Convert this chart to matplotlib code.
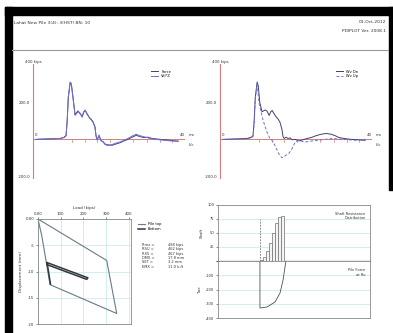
import matplotlib
matplotlib.use("Agg")
import matplotlib.pyplot as plt
from matplotlib.patches import Rectangle

W, H = 393, 333

# ---------------- data ----------------
header_left = "Lahat New Pile 3(4): 3(HST) BN: 10"
header_right = ["01-Oct-2012", "PDIPLOT Ver. 2008.1"]

# top-left: Force and Velocity*Z (time in ms, kips)
t_fv = [0.8, 7.2, 8.3, 8.8, 9.1, 9.4, 9.9, 10.2, 10.6, 11.2, 12.0, 12.5, 13.1,
        13.5, 13.9, 14.4, 14.7, 15.1, 15.5, 16.0, 16.5, 16.8, 17.1, 17.6, 18.1,
        18.7, 19.2, 20.0, 21.1, 22.1, 23.2, 24.3, 25.3, 26.4, 27.5, 28.5, 29.6,
        30.7, 31.7, 34.0, 36.5, 38.7]
force = [0, 5, 10, 20, 95, 225, 308, 300, 240, 135, 155, 140, 125, 150, 157,
         140, 130, 115, 110, 95, 70, 20, 0, 20, -5, -15, -25, -30, -32, -25,
         -18, -8, 0, 12, 22, 15, 10, 12, 5, 0, -5, -10]
velz = [0, 5, 12, 22, 100, 230, 312, 305, 235, 130, 150, 145, 120, 146, 160,
        136, 128, 118, 106, 92, 66, 16, -4, 24, -8, -12, -28, -34, -28, -20,
        -14, -4, 5, 18, 28, 20, 14, 8, 3, -3, -8, -10]

# top-right: Wave Down (same time base) and Wave Up
wd = [0, 5, 11, 21, 98, 228, 312, 290, 200, 150, 160, 155, 130, 150, 157,
      140, 130, 119, 110, 92, 55, 15, 5, 12, 5, 8, -2, 0, -8, -2,
      5, 10, 18, 25, 30, 32, 28, 20, 10, 2, -2, -5]
t_wu = [0.8, 7.2, 8.3, 8.8, 9.1, 9.4, 9.9, 10.4, 11.2, 11.7, 12.5, 13.3, 14.1,
        14.9, 15.7, 16.5, 17.1, 17.6, 18.4, 19.2, 20.0, 21.0, 22.5, 24.0, 26.0,
        28.0, 30.0, 33.0, 36.0, 38.7]
wu = [0, 3, 8, 15, 90, 220, 300, 200, 125, 90, 40, 5, -10, -45, -80, -100,
      -95, -85, -75, -50, -15, -5, -15, -10, -5, 0, 5, 0, -5, 0]
time_marks = [10.4, 13.9, 17.1, 20.5, 26.7, 30.4, 33.9, 37.1]

# bottom-left: load (kips) vs displacement (mm)
load_top = [0, 303, 347, 53, 18, 0]
disp_top = [0, -7.9, -18.0, -12.5, -3.5, 0]
load_bot = [40, 220, 215, 40, 40, 55]
disp_bot = [-8.3, -11.2, -11.5, -8.7, -8.3, -12.4]
load_ticks = [0, 100, 200, 300, 400]
load_ticklabels = ["0.00", "100", "200", "300", "400"]
disp_ticks = [0, -5, -10, -15, -20]
disp_ticklabels = ["0.00", "-5", "-10", "-15", "-20"]
table_keys = ["Rmx =", "RSU =", "RX5 =", "DMX =", "SET =", "EMX ="]
table_vals = ["488 kips", "462 kips", "467 kips", "17.8 mm", "3.2 mm", "11.0 k-ft"]

# bottom-right: shaft resistance distribution and toe force
shaft_x = [27.6, 29.6, 31.6, 33.6, 35.6, 37.6, 39.6, 41.6]
shaft_v = [2, 8, 18, 32, 50, 68, 79, 80]
toe_x = [27.6, 27.6, 32.2, 37.5, 40.8, 42.8, 44.1, 44.7]
toe_v = [0, -330, -323, -288, -225, -133, -42, 0]

# ---------------- figure ----------------
fig = plt.figure(figsize=(W / 100, H / 100), dpi=100)
fig.patch.set_facecolor("white")


def px_axes(x0, y0, x1, y1, **kw):
    return fig.add_axes([x0 / W, 1 - y1 / H, (x1 - x0) / W, (y1 - y0) / H], **kw)


def fig_text(x, y, s, **kw):
    fig.text(x / W, 1 - y / H, s, **kw)


# frame decorations (black borders)
bg = px_axes(0, 0, W, H)
bg.set_xlim(0, W)
bg.set_ylim(H, 0)
bg.axis("off")
bg.add_patch(Rectangle((5, 7), W - 5, 8, color="black"))
bg.add_patch(Rectangle((5, 7), 7, H - 7, color="black"))
bg.add_patch(Rectangle((389, 7), 4, 183, color="black"))
bg.plot([12, 388], [50, 50], color="#999999", lw=0.8)

fig_text(14, 23, header_left, fontsize=3.2, color="#333333", va="center")
fig_text(386, 22, header_right[0], fontsize=3.2, color="#333333", va="center", ha="right")
fig_text(386, 31, header_right[1], fontsize=3.2, color="#333333", va="center", ha="right")

RED = "#d08080"
DARK = "#404070"
BLUE = "#7070d0"


def wave_axes(x_axis_px, t1, s1, t2, s2, lab1, lab2, style2):
    ax = px_axes(x_axis_px, 64, x_axis_px + 152, 178)
    ax.set_xlim(0, 40.5)
    ax.set_ylim(-210, 410)
    for sp in ["top", "right", "bottom"]:
        ax.spines[sp].set_visible(False)
    ax.spines["left"].set_color(RED)
    ax.spines["left"].set_linewidth(0.8)
    ax.axhline(0, color=RED, lw=0.7, zorder=1)
    ax.set_xticks([])
    ax.set_yticks([])
    ax.plot(t1, s1, color=DARK, lw=0.7, label=lab1, zorder=3)
    ax.plot(t2, s2, color=BLUE, lw=0.7, ls=style2, label=lab2, zorder=3)
    for tm in time_marks:
        ax.plot([tm, tm], [-4, -14], color=RED, lw=0.5)
    ax.text(0, 410, "400 kips", fontsize=2.8, ha="center", va="bottom", color="#333333",
            clip_on=False)
    ax.text(-0.7, 200, "200.0", fontsize=2.8, ha="right", va="center", color="#333333")
    ax.text(-0.7, -205, "-200.0", fontsize=2.8, ha="right", va="center", color="#333333")
    ax.text(0.8, 15, "0", fontsize=2.8, ha="center", va="bottom", color="#333333")
    ax.text(39.7, 15, "40", fontsize=2.8, ha="center", va="bottom", color="#333333")
    ax.text(41.5, 15, "ms", fontsize=2.8, ha="left", va="bottom", color="#333333", clip_on=False)
    ax.text(41.5, -20, "L/c", fontsize=2.8, ha="left", va="top", color="#333333", clip_on=False)
    ax.legend(loc="upper right", fontsize=2.6, frameon=False, handlelength=2,
              bbox_to_anchor=(0.93, 0.98), labelspacing=0.2)
    return ax


wave_axes(33, t_fv, force, t_fv, velz, "Force", "Vel*Z", "-")
wave_axes(220, t_fv, wd, t_wu, wu, "Wv Dn", "Wv Up", (0, (3, 2)))

# bottom-left load-displacement
ax3 = px_axes(38, 219, 131, 324)
ax3.set_xlim(0, 410)
ax3.set_ylim(-20, 0)
ax3.plot(load_top, disp_top, color="#6a7a88", lw=0.8, label="Pile top")
ax3.plot(load_bot, disp_bot, color="#303840", lw=1.1, label="Bottom")
ax3.xaxis.tick_top()
ax3.xaxis.set_label_position("top")
ax3.set_xticks(load_ticks)
ax3.set_xticklabels(load_ticklabels)
ax3.set_yticks(disp_ticks)
ax3.set_yticklabels(disp_ticklabels)
ax3.tick_params(labelsize=2.8, length=1.5, width=0.4, pad=1, colors="#333333")
ax3.grid(color="#c8ecec", lw=0.6)
for sp in ax3.spines.values():
    sp.set_color("#888888")
    sp.set_linewidth(0.6)
ax3.set_xlabel("Load (kips)", fontsize=3, labelpad=1.5, color="#333333")
ax3.set_ylabel("Displacement (mm)", fontsize=3, labelpad=2, color="#333333")
ax3.legend(loc="upper left", bbox_to_anchor=(1.04, 1.0), fontsize=2.6, frameon=False,
           handlelength=2, labelspacing=0.2)
for i, (k, v) in enumerate(zip(table_keys, table_vals)):
    fig_text(142, 245 + i * 4.3, k, fontsize=2.6, va="center", color="#333333")
    fig_text(168, 245 + i * 4.3, v, fontsize=2.6, va="center", color="#333333")

# bottom-right shaft resistance / toe force
ax4 = px_axes(218, 205, 370, 261)
ax4.set_xlim(0, 100)
ax4.set_ylim(0, 100)
ax4.bar(shaft_x, shaft_v, width=2.0, align="edge", color="#f4f4f4",
        edgecolor="#707070", linewidth=0.5, zorder=3)
ax4.plot([27.6, 27.6], [0, 75], color="#707070", lw=0.6, ls=(0, (2, 1.5)), zorder=3)
ax4.set_xticks([])
ax4.set_yticks([0, 25, 50, 75, 100])
ax4.set_yticklabels(["", "25", "50", "75", "100"])
ax4.grid(axis="y", color="#c8ecec", lw=0.6)
ax4.set_ylabel("Shaft", fontsize=2.8, labelpad=3, color="#333333")
ax4.text(97, 88, "Shaft Resistance\nDistribution", fontsize=2.6, ha="right", va="top",
         color="#333333")

ax5 = px_axes(218, 261, 370, 318)
ax5.set_xlim(0, 100)
ax5.set_ylim(-400, 0)
ax5.plot(toe_x, toe_v, color="#505050", lw=0.6)
ax5.set_xticks([])
ax5.set_yticks([-400, -300, -200, -100, 0])
ax5.set_yticklabels(["-400", "-300", "-200", "-100", ""])
ax5.grid(axis="y", color="#c8ecec", lw=0.6)
ax5.set_ylabel("Toe", fontsize=2.8, labelpad=3, color="#333333")
ax5.text(97, -50, "Pile Force\nat Ru", fontsize=2.6, ha="right", va="top", color="#333333")

for ax in (ax4, ax5):
    ax.tick_params(labelsize=2.6, length=1.5, width=0.4, pad=1, colors="#333333")
    for sp in ax.spines.values():
        sp.set_color("#888888")
        sp.set_linewidth(0.6)
ax4.spines["bottom"].set_color("#555555")
ax4.spines["bottom"].set_linewidth(0.9)

fig.savefig("out.png", dpi=100)
